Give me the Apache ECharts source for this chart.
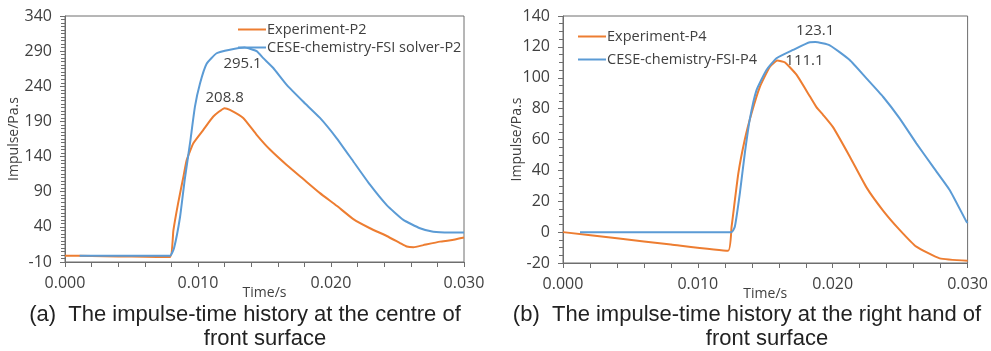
<!DOCTYPE html>
<html>
<head>
<meta charset="utf-8">
<script src="https://cdn.jsdelivr.net/npm/echarts@6/dist/echarts.min.js"></script>
<style>
  html, body { margin: 0; padding: 0; background: #fff; }
  #chart { width: 991px; height: 351px; }
</style>
</head>
<body>
<div id="chart"></div>
<script>
// (a) centre of front surface, P2
const expP2Time = [0, 0.002, 0.004, 0.006, 0.0079, 0.00815, 0.0085, 0.0089, 0.00915, 0.00965, 0.0104, 0.01115, 0.0120, 0.0124, 0.0134, 0.01441, 0.01541, 0.01667, 0.01792, 0.01917, 0.02043, 0.02168, 0.02293, 0.02419, 0.02519, 0.0257, 0.0262, 0.02694, 0.0282, 0.029, 0.03];
const expP2Value = [-1, -1.5, -2, -2.5, -3, 35, 73, 111, 135, 159, 178, 197, 208.8, 206.5, 195, 171, 150, 128, 108, 88, 70, 51, 38, 27, 17, 12, 11, 14, 19, 21, 25];
const cfdP2Time = [0.0011, 0.004, 0.0079, 0.0082, 0.00865, 0.009, 0.0094, 0.00977, 0.01015, 0.01065, 0.0114, 0.0124, 0.0135, 0.01441, 0.01491, 0.01566, 0.01667, 0.01792, 0.01917, 0.02043, 0.02168, 0.02293, 0.02419, 0.02544, 0.02669, 0.02769, 0.02895, 0.03];
const cfdP2Value = [-1, -1, -1, 10, 54, 107, 159, 211, 244, 272, 287, 292, 295.1, 290, 280, 266, 242, 218, 195, 166, 133, 100, 71, 50, 38, 33, 32, 32];

// (b) right hand of front surface, P4
const expP4Time = [0, 0.004, 0.008, 0.01224, 0.0125, 0.013, 0.01348, 0.01398, 0.01459, 0.01533, 0.0159, 0.01644, 0.01731, 0.0183, 0.01879, 0.01928, 0.02002, 0.02126, 0.0225, 0.02373, 0.02496, 0.0262, 0.02793, 0.03];
const expP4Value = [0, -4, -8, -12, 3.5, 38, 60, 77, 94, 107, 111.1, 110, 102, 88, 81, 76, 68, 49, 29, 14, 1.5, -9.4, -17, -18.5];
const cfdP4Time = [0.00126, 0.006, 0.0125, 0.01274, 0.01311, 0.01348, 0.01385, 0.01435, 0.01509, 0.01583, 0.01706, 0.0183, 0.0187, 0.01978, 0.02126, 0.0225, 0.02373, 0.02496, 0.0262, 0.02743, 0.02867, 0.0299, 0.03];
const cfdP4Value = [0, 0, 0, 3.5, 25, 51, 73, 92, 105, 112.6, 118, 123, 123.1, 121, 111.5, 99.6, 87.7, 73.7, 57.5, 42.4, 27.3, 7, 6];

const timeTicks = ['0.000', '0.010', '0.020', '0.030'];
const peakLabels = ['208.8', '295.1', '111.1', '123.1'];
const seriesNames = ['Experiment-P2', 'CESE-chemistry-FSI solver-P2', 'Experiment-P4', 'CESE-chemistry-FSI-P4'];

const pairs = (t, v) => t.map((x, i) => [x, v[i]]);

const ORANGE = '#ED7D31';
const BLUE = '#5B9BD5';
const AXIS = '#6e6e6e';
const TXT = '#404040';
const FONT = '"Open Sans", sans-serif';

const xAxisOf = (gridIndex) => ({
    type: 'value',
    gridIndex: gridIndex,
    min: 0,
    max: 0.03,
    interval: 0.002,
    name: 'Time/s',
    nameLocation: 'middle',
    nameGap: 24,
    nameMoveOverlap: false,
    nameTextStyle: { color: TXT, fontSize: 14, fontFamily: FONT },
    axisLine: { show: true, onZero: false, lineStyle: { color: AXIS } },
    axisTick: { show: true, length: 5, lineStyle: { color: AXIS, width: 1 } },
    splitLine: { show: false },
    axisLabel: {
        margin: 13,
        color: TXT,
        fontSize: 16,
        fontFamily: FONT,
        showMinLabel: true,
        showMaxLabel: true,
        formatter: function (v) {
            const k = Math.round(v / 0.01);
            return Math.abs(v - k * 0.01) < 1e-7 ? timeTicks[k] : '';
        }
    }
});

const yAxisOf = (gridIndex, min, max, interval, minorSplit, gap) => ({
    type: 'value',
    gridIndex: gridIndex,
    min: min,
    max: max,
    interval: interval,
    name: 'Impulse/Pa.s',
    nameLocation: 'middle',
    nameGap: gap,
    nameMoveOverlap: false,
    nameTextStyle: { color: TXT, fontSize: 14, fontFamily: FONT },
    axisLine: { show: true, onZero: false, lineStyle: { color: AXIS } },
    axisTick: { show: true, length: 5, lineStyle: { color: AXIS } },
    minorTick: { show: true, splitNumber: minorSplit, length: 4, lineStyle: { color: AXIS } },
    splitLine: { show: false },
    axisLabel: { margin: 13, color: TXT, fontSize: 16, fontFamily: FONT }
});

const peakMark = (coord, text, offset) => ({
    symbol: 'circle',
    symbolSize: 1,
    itemStyle: { color: 'rgba(0,0,0,0)' },
    label: {
        show: true,
        formatter: text,
        offset: offset,
        color: TXT,
        fontSize: 15,
        fontFamily: FONT
    },
    data: [{ coord: coord }]
});

const lineSeries = (name, idx, data, color, mark) => ({
    name: name,
    type: 'line',
    xAxisIndex: idx,
    yAxisIndex: idx,
    data: data,
    symbol: 'none',
    smooth: 0.15,
    lineStyle: { color: color, width: 2 },
    itemStyle: { color: color },
    markPoint: mark,
    animation: false
});

const legendOf = (left, top, gap, names) => ({
    orient: 'vertical',
    left: left,
    top: top,
    itemGap: gap,
    icon: 'rect',
    itemWidth: 28,
    itemHeight: 2,
    data: names,
    textStyle: { color: TXT, fontSize: 14.5, fontFamily: FONT, padding: [0, 0, 0, -4] }
});

const captionText = (x, y, text) => ({
    type: 'text',
    x: x,
    y: y,
    style: {
        text: text,
        font: '22px "Liberation Sans", Arial, sans-serif',
        fill: '#222',
        align: 'center',
        verticalAlign: 'middle'
    }
});

let myChart = echarts.init(document.getElementById('chart'), null, { renderer: 'canvas' });
myChart.setOption({
    animation: false,
    grid: [
        { left: 65, top: 16, width: 399, height: 246, show: true, borderColor: AXIS, borderWidth: 1 },
        { left: 563, top: 16, width: 405, height: 247, show: true, borderColor: AXIS, borderWidth: 1 }
    ],
    xAxis: [xAxisOf(0), xAxisOf(1)],
    yAxis: [
        yAxisOf(0, -10, 340, 50, 10, 44),
        yAxisOf(1, -20, 140, 20, 4, 39)
    ],
    legend: [
        legendOf(233, 17, 3, [seriesNames[0], seriesNames[1]]),
        legendOf(573, 24, 8, [seriesNames[2], seriesNames[3]])
    ],
    series: [
        lineSeries(seriesNames[0], 0, pairs(expP2Time, expP2Value), ORANGE, peakMark([0.0120, 208.8], peakLabels[0], [0, -10])),
        lineSeries(seriesNames[1], 0, pairs(cfdP2Time, cfdP2Value), BLUE, peakMark([0.0135, 295.1], peakLabels[1], [-2, 16])),
        lineSeries(seriesNames[2], 1, pairs(expP4Time, expP4Value), ORANGE, peakMark([0.0159, 111.1], peakLabels[2], [27, 0])),
        lineSeries(seriesNames[3], 1, pairs(cfdP4Time, cfdP4Value), BLUE, peakMark([0.0187, 123.1], peakLabels[3], [0, -11]))
    ],
    graphic: [
        captionText(245, 315, '(a)  The impulse-time history at the centre of'),
        captionText(265, 339, 'front surface'),
        captionText(747, 315, '(b)  The impulse-time history at the right hand of'),
        captionText(767, 339, 'front surface')
    ]
});
</script>
</body>
</html>
